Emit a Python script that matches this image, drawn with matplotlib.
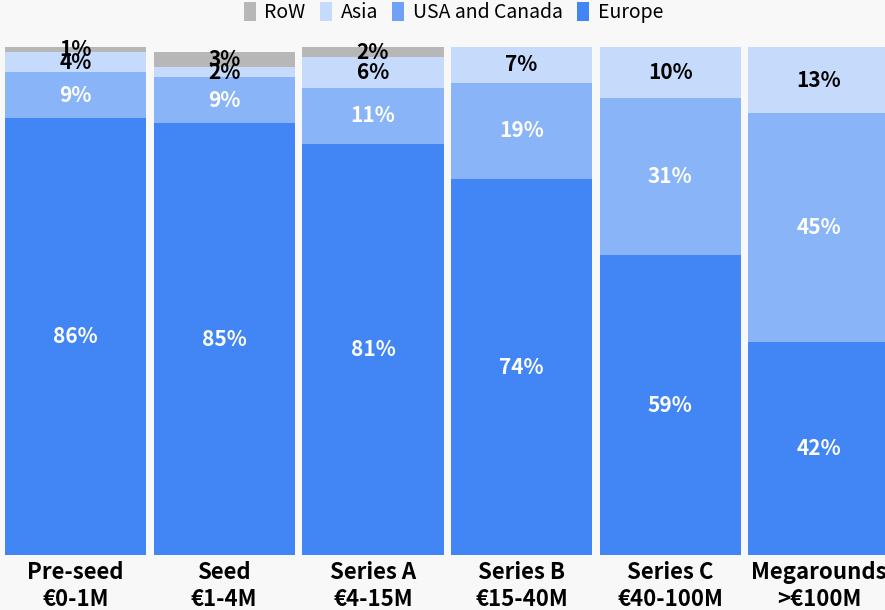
import matplotlib
matplotlib.use("Agg")
import matplotlib.pyplot as plt
import matplotlib.patches as patches
import numpy as np

plt.rcParams["font.family"] = ["Noto Sans CJK SC", "DejaVu Sans"]

# Data (share of funding by region, %)
stages = ["Pre-seed\n€0-1M", "Seed\n€1-4M", "Series A\n€4-15M",
          "Series B\n€15-40M", "Series C\n€40-100M", "Megarounds\n>€100M"]
europe = [86, 85, 81, 74, 59, 42]
usa_canada = [9, 9, 11, 19, 31, 45]
asia = [4, 2, 6, 7, 10, 13]
row = [1, 3, 2, 0, 0, 0]

series = [
    ("Europe", europe, "#4285F4", "#4285F4", "white"),
    ("USA and Canada", usa_canada, "#8AB4F8", "#6FA2F7", "white"),
    ("Asia", asia, "#C6DAFC", "#C6DAFC", "black"),
    ("RoW", row, "#B7B7B7", "#B7B7B7", "black"),
]

bg = "#F8F8F8"
fig = plt.figure(figsize=(8.85, 6.1), dpi=100, facecolor=bg)
# axes in pixel terms: bottom at 555px from top, top at 45px
ax = fig.add_axes([0, 55 / 610, 1, 510 / 610])
ax.set_facecolor(bg)

x = np.arange(len(stages))
bottom = np.zeros(len(stages))
for name, vals, color, _, txt_color in series:
    vals = np.array(vals, dtype=float)
    ax.bar(x, vals, width=0.95, bottom=bottom, color=color, linewidth=0)
    for xi, v, b in zip(x, vals, bottom):
        if v > 0:
            ax.text(xi, b + v / 2, f"{v:.0f}%", ha="center", va="center",
                    color=txt_color, fontsize=15, fontweight="bold")
    bottom += vals

ax.set_xlim(-0.5077, 5.444)
ax.set_ylim(0, 510 / 5.08)
ax.set_xticks(x)
ax.set_xticklabels(stages, fontsize=16, fontweight="bold", linespacing=1.22)
ax.tick_params(axis="x", length=0, pad=4)
ax.set_yticks([])
for s in ax.spines.values():
    s.set_visible(False)

handles = [patches.Patch(facecolor=leg_color, label=name)
           for name, _, _, leg_color, _ in reversed(series)]
fig.legend(handles=handles, loc="center", bbox_to_anchor=(453.5 / 885, 1 - 12.5 / 610),
           ncol=4, frameon=False, fontsize=14, handlelength=0.6, handleheight=1.1,
           handletextpad=0.45, columnspacing=0.75, borderpad=0, borderaxespad=0)

fig.savefig("out.png", dpi=100, facecolor=bg)
